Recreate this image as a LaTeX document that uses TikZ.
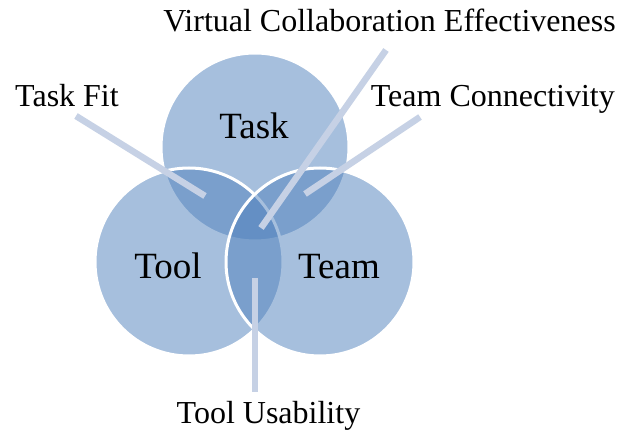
\documentclass[tikz,border=0pt]{standalone}
\usepackage{fontspec}
\setmainfont{Liberation Serif}
\definecolor{vblue}{RGB}{79,129,189}
\definecolor{vline}{RGB}{198,209,229}
\begin{document}
\begin{tikzpicture}[x=1pt,y=-1pt,
  venn/.style={fill=vblue,fill opacity=0.5,draw=white,draw opacity=1,line width=3pt},
  leader/.style={draw=vline,line width=6.5pt,line cap=butt},
  big/.style={font=\fontsize{37}{42}\selectfont,anchor=base,inner sep=0pt},
  lab/.style={font=\fontsize{32}{36}\selectfont,anchor=base,inner sep=0pt}]
\useasboundingbox (0,0) rectangle (621,430);
\fill[white] (0,0) rectangle (621,430);
% circles
\path[venn] (255,147) circle[radius=94];
\path[venn] (189,262) circle[radius=94];
\path[venn] (320,262) circle[radius=94];
% leader end points
\coordinate (fitA) at (76,116);
\coordinate (fitB) at (205,196);
\coordinate (vceA) at (386,50);
\coordinate (vceB) at (261,228);
\coordinate (tcA) at (420,117);
\coordinate (tcB) at (305,194);
\coordinate (tuA) at (255,278);
\coordinate (tuB) at (255,392);
\draw[leader] (fitA) -- (fitB);
\draw[leader] (vceA) -- (vceB);
\draw[leader] (tcA) -- (tcB);
\draw[leader] (tuA) -- (tuB);
% labels
\node[big] (task) at (254,139) {Task};
\node[big] (tool) at (168,279) {Tool};
\node[big] (team) at (339,279) {Team};
\node[lab] (vce) at (389.5,32) {Virtual Collaboration Effectiveness};
\node[lab,anchor=base west] (fit) at (15,107) {Task Fit};
\node[lab,anchor=base east] (tc) at (615,107) {Team Connectivity};
\node[lab] (tu) at (268.5,423) {Tool Usability};
\end{tikzpicture}
\end{document}
